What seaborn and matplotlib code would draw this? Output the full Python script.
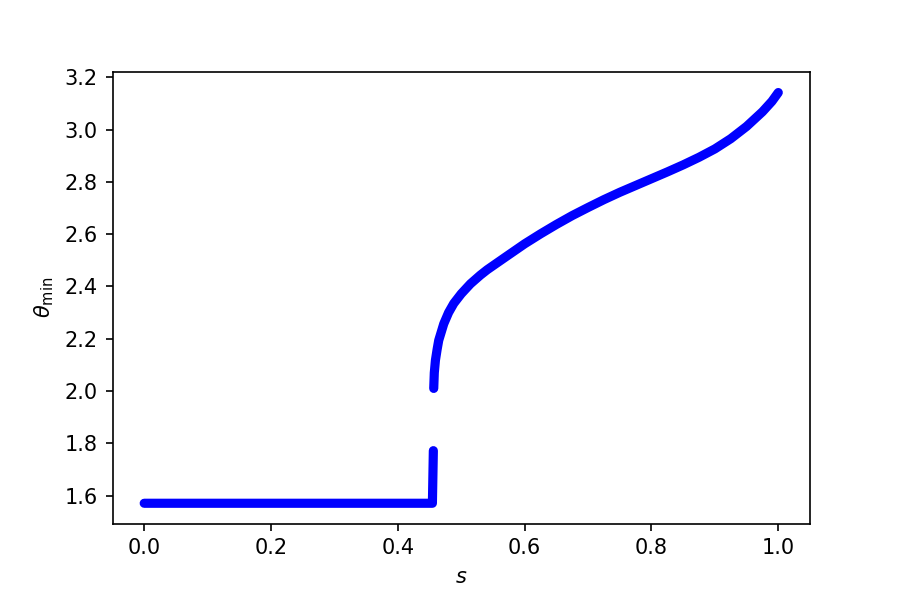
import numpy as np
import pandas as pd
import matplotlib
matplotlib.use("Agg")
import matplotlib.pyplot as plt
import seaborn as sns

# lower branch: flat at pi/2, then short vertical rise
s_low = [0.0, 0.4545, 0.4560]
theta_low = [1.5708, 1.5708, 1.772]

# upper branch
s_up = [0.4566, 0.4575, 0.4593, 0.4620, 0.4645, 0.4724, 0.480, 0.4882, 0.500,
        0.5145, 0.530, 0.541, 0.560, 0.5725, 0.600, 0.625, 0.650, 0.675, 0.700,
        0.725, 0.750, 0.775, 0.800, 0.825, 0.850, 0.875, 0.900, 0.925, 0.950,
        0.975, 0.990, 1.000]
theta_up = [2.010, 2.070, 2.118, 2.160, 2.194, 2.257, 2.300, 2.335, 2.372,
            2.410, 2.443, 2.464, 2.496, 2.517, 2.563, 2.601, 2.637, 2.671, 2.702,
            2.732, 2.760, 2.786, 2.812, 2.838, 2.865, 2.894, 2.926, 2.965, 3.012,
            3.068, 3.108, 3.1416]

df = pd.concat([
    pd.DataFrame({'s': s_low, 'theta': theta_low, 'branch': 'low'}),
    pd.DataFrame({'s': s_up, 'theta': theta_up, 'branch': 'up'}),
], ignore_index=True)

fig, ax = plt.subplots(figsize=(6, 4), dpi=150)
sns.lineplot(data=df, x='s', y='theta', units='branch', estimator=None, sort=False,
             color='blue', lw=4.4, solid_capstyle='round', solid_joinstyle='round', ax=ax)

ax.set_xlabel(r'$s$')
ax.set_ylabel(r'$\theta_{\min}$')
ax.set_xticks([0.0, 0.2, 0.4, 0.6, 0.8, 1.0])
ax.set_yticks([1.6, 1.8, 2.0, 2.2, 2.4, 2.6, 2.8, 3.0, 3.2])

fig.subplots_adjust(left=0.125, right=0.9, top=0.88, bottom=0.127)
plt.savefig('out.png', dpi=150)
